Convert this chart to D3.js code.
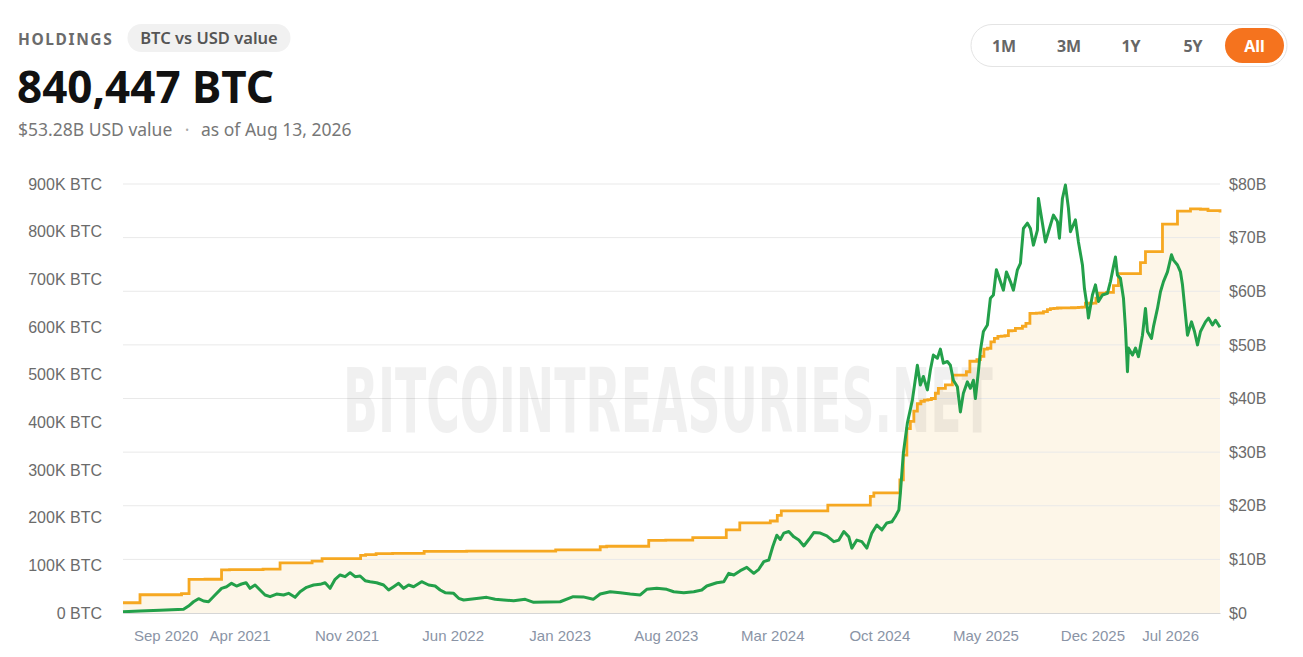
<!DOCTYPE html>
<html>
<head>
    <meta charset="utf-8" />
    <title>Holdings</title>
    <style>
        body {
            margin: 0;
            background: #fff;
            font-family: "Noto Sans", sans-serif;
        }

        svg {
            display: block;
        }

        .axis-side text {
            font-family: "Liberation Sans", Arial, sans-serif;
            font-size: 16px;
            fill: #6b6b6b;
        }

        .axis-bottom text {
            font-family: "Liberation Sans", Arial, sans-serif;
            font-size: 15px;
            fill: #8a94a6;
        }

        .axis-bottom path {
            stroke: #d6d6d6;
        }

        .grid line {
            stroke: #e9e9e9;
            stroke-width: 1;
        }

        .btn-label {
            font-size: 16px;
            font-weight: 700;
            text-anchor: middle;
        }
    </style>
</head>
<body>
    <script src="https://cdn.jsdelivr.net/npm/d3@7"></script>

    <script>
        // BTC held (step series)
        let btcDates = [
            '2020-08-11', '2020-09-14', '2020-12-06', '2020-12-21', '2021-01-22', '2021-02-24',
            '2021-03-12', '2021-05-18', '2021-06-21', '2021-08-24', '2021-09-13', '2021-11-29',
            '2021-12-09', '2021-12-30', '2022-02-01', '2022-04-05', '2022-06-29', '2022-09-20',
            '2022-12-24', '2023-03-23', '2023-04-05', '2023-06-28', '2023-08-01', '2023-09-24',
            '2023-11-30', '2023-12-27', '2024-02-26', '2024-03-11', '2024-03-19', '2024-04-29',
            '2024-06-20', '2024-08-01', '2024-09-13', '2024-09-20', '2024-11-11', '2024-11-18',
            '2024-11-25', '2024-12-02', '2024-12-09', '2024-12-16', '2024-12-23', '2024-12-30',
            '2025-01-06', '2025-01-13', '2025-01-21', '2025-01-27', '2025-02-10', '2025-02-24',
            '2025-03-17', '2025-03-24', '2025-03-31', '2025-04-14', '2025-04-21', '2025-04-28',
            '2025-05-05', '2025-05-12', '2025-05-19', '2025-05-26', '2025-06-02', '2025-06-09',
            '2025-06-16', '2025-06-23', '2025-06-30', '2025-07-14', '2025-07-21', '2025-07-29',
            '2025-08-11', '2025-08-18', '2025-08-25', '2025-09-02', '2025-09-08', '2025-09-15',
            '2025-09-22', '2025-09-29', '2025-10-13', '2025-10-20', '2025-10-27', '2025-11-03',
            '2025-11-10', '2025-11-17', '2025-12-01', '2025-12-08', '2025-12-15', '2025-12-29',
            '2026-01-12', '2026-01-22', '2026-03-07', '2026-03-17', '2026-04-20', '2026-05-20',
            '2026-06-15', '2026-07-05', '2026-07-20', '2026-08-13'
        ]
        let btcHeld = [
            21454, 38250, 40824, 70470, 70784, 90531,
            91064, 92079, 105085, 108992, 114042, 121044,
            122478, 124391, 125051, 129218, 129699, 130000,
            132500, 138955, 140000, 152333, 152800, 158245,
            174530, 189150, 193000, 205000, 214246, 214400,
            226331, 226500, 244800, 252220, 279420, 331200,
            386700, 402100, 423650, 439000, 444262, 446400,
            447470, 450000, 461000, 471107, 478740, 499096,
            499226, 506137, 528185, 531644, 538200, 553555,
            555450, 568840, 576230, 580250, 580955, 582000,
            592100, 592345, 597325, 601550, 607770, 628791,
            628946, 629376, 632457, 636505, 638460, 638985,
            639835, 640031, 640250, 640418, 640808, 641205,
            641692, 649870, 650000, 660624, 671268, 672497,
            687000, 712000, 735000, 758000, 816000, 843000,
            848000, 847000, 844000, 840447
        ]

        // USD value of holdings, billions
        let usdDates = [
            '2020-08-11', '2020-09-14', '2020-10-24', '2020-12-10', '2020-12-20', '2020-12-30',
            '2021-01-09', '2021-01-19', '2021-01-29', '2021-02-11', '2021-02-24', '2021-03-06',
            '2021-03-16', '2021-03-26', '2021-04-05', '2021-04-14', '2021-04-22', '2021-05-02',
            '2021-05-12', '2021-05-22', '2021-06-01', '2021-06-14', '2021-06-28', '2021-07-08',
            '2021-07-21', '2021-07-31', '2021-08-13', '2021-08-27', '2021-09-09', '2021-09-19',
            '2021-09-29', '2021-10-09', '2021-10-19', '2021-10-29', '2021-11-08', '2021-11-18',
            '2021-11-28', '2021-12-08', '2021-12-18', '2021-12-31', '2022-01-14', '2022-01-24',
            '2022-02-03', '2022-02-13', '2022-02-23', '2022-03-05', '2022-03-15', '2022-03-31',
            '2022-04-14', '2022-04-27', '2022-05-07', '2022-05-17', '2022-06-03', '2022-06-13',
            '2022-06-23', '2022-07-06', '2022-07-23', '2022-08-08', '2022-08-25', '2022-09-11',
            '2022-10-01', '2022-10-24', '2022-11-10', '2022-12-06', '2023-01-02', '2023-01-28',
            '2023-02-17', '2023-03-09', '2023-03-23', '2023-04-12', '2023-05-02', '2023-05-22',
            '2023-06-11', '2023-06-24', '2023-07-14', '2023-08-03', '2023-08-17', '2023-09-06',
            '2023-09-26', '2023-10-12', '2023-10-22', '2023-11-11', '2023-11-25', '2023-12-05',
            '2023-12-15', '2023-12-28', '2024-01-10', '2024-01-24', '2024-02-03', '2024-02-13',
            '2024-02-23', '2024-03-02', '2024-03-10', '2024-03-17', '2024-03-24', '2024-04-03',
            '2024-04-13', '2024-04-23', '2024-05-03', '2024-05-13', '2024-05-23', '2024-06-05',
            '2024-06-18', '2024-07-02', '2024-07-12', '2024-07-22', '2024-08-01', '2024-08-07',
            '2024-08-17', '2024-08-27', '2024-09-06', '2024-09-16', '2024-09-26', '2024-10-06',
            '2024-10-16', '2024-10-26', '2024-11-02', '2024-11-09', '2024-11-12', '2024-11-18',
            '2024-11-26', '2024-12-06', '2024-12-16', '2024-12-22', '2024-12-28', '2025-01-05',
            '2025-01-11', '2025-01-17', '2025-01-25', '2025-01-31', '2025-02-06', '2025-02-14',
            '2025-02-20', '2025-02-26', '2025-03-06', '2025-03-12', '2025-03-18', '2025-03-26',
            '2025-04-01', '2025-04-07', '2025-04-11', '2025-04-17', '2025-04-21', '2025-04-27',
            '2025-05-05', '2025-05-11', '2025-05-17', '2025-05-23', '2025-05-31', '2025-06-06',
            '2025-06-12', '2025-06-20', '2025-06-26', '2025-07-04', '2025-07-10', '2025-07-16',
            '2025-07-24', '2025-07-30', '2025-08-05', '2025-08-13', '2025-08-15', '2025-08-23',
            '2025-08-29', '2025-09-04', '2025-09-14', '2025-09-22', '2025-09-26', '2025-10-02',
            '2025-10-08', '2025-10-14', '2025-10-18', '2025-10-28', '2025-11-03', '2025-11-11',
            '2025-11-15', '2025-11-21', '2025-11-23', '2025-12-01', '2025-12-07', '2025-12-13',
            '2025-12-21', '2025-12-31', '2026-01-06', '2026-01-12', '2026-01-16', '2026-01-20',
            '2026-01-26', '2026-02-01', '2026-02-05', '2026-02-09', '2026-02-11', '2026-02-19',
            '2026-02-25', '2026-03-03', '2026-03-11', '2026-03-17', '2026-03-21', '2026-03-29',
            '2026-04-02', '2026-04-10', '2026-04-16', '2026-04-22', '2026-04-30', '2026-05-08',
            '2026-05-12', '2026-05-20', '2026-05-26', '2026-05-30', '2026-06-05', '2026-06-09',
            '2026-06-17', '2026-06-23', '2026-06-29', '2026-07-05', '2026-07-15', '2026-07-21',
            '2026-07-29', '2026-08-04', '2026-08-13'
        ]
        let usdValue = [
            0.25, 0.38, 0.5, 0.68, 1.3, 2.1,
            2.67, 2.24, 2.1, 3.36, 4.6, 4.9,
            5.53, 5.03, 5.41, 5.65, 4.6, 5.22,
            4.29, 3.36, 3.04, 3.54, 3.36, 3.67,
            2.92, 3.97, 4.79, 5.22, 5.35, 5.65,
            4.6, 6.28, 7.09, 6.77, 7.52, 6.77,
            6.9, 6.03, 5.84, 5.65, 5.22, 4.29,
            4.9, 5.53, 4.6, 5.22, 4.9, 5.84,
            5.22, 5.03, 4.29, 3.79, 3.67, 2.74,
            2.42, 2.55, 2.74, 2.92, 2.55, 2.42,
            2.3, 2.55, 1.99, 2.05, 2.1, 3.04,
            3.0, 2.55, 3.54, 3.97, 3.79, 3.54,
            3.36, 4.42, 4.6, 4.42, 3.97, 3.79,
            3.97, 4.29, 5.03, 5.65, 5.84, 7.4,
            7.09, 7.9, 8.52, 7.4, 8.15, 9.57,
            9.88, 12.4, 14.5, 13.7, 14.9, 15.2,
            14.2, 13.6, 12.5, 13.7, 15.0, 14.9,
            14.4, 13.3, 13.6, 15.2, 14.2, 12.1,
            13.6, 13.3, 12.1, 14.9, 16.4, 15.5,
            16.8, 17.0, 18.0, 19.2, 22.3, 29.8,
            35.4, 39.7, 46.2, 42.5, 44.1, 41.6,
            45.3, 48.1, 47.5, 49.2, 46.6, 46.9,
            46.2, 43.4, 42.2, 37.5, 41.0, 43.1,
            41.9, 43.4, 40.0, 45.0, 48.9, 52.5,
            53.7, 58.7, 59.3, 64.0, 61.8, 60.2,
            63.6, 61.8, 60.2, 64.0, 65.2, 71.7,
            72.7, 71.7, 68.6, 71.4, 77.3, 72.7,
            69.2, 71.1, 74.2, 73.0, 69.9, 77.3,
            79.8, 75.5, 71.1, 73.3, 69.2, 64.9,
            60.5, 56.8, 55.0, 59.3, 61.2, 58.1,
            59.3, 59.6, 61.8, 64.6, 66.4, 63.0,
            62.4, 58.7, 53.1, 45.0, 49.4, 48.1,
            49.4, 47.8, 51.8, 56.8, 52.5, 51.2,
            53.4, 56.8, 59.9, 61.8, 63.6, 66.8,
            65.8, 64.9, 63.6, 61.2, 55.6, 51.8,
            54.3, 52.5, 50.0, 52.5, 54.3, 55.0,
            53.7, 54.6, 53.28
        ]

        let xTickLabels = ['Sep 2020', 'Apr 2021', 'Nov 2021', 'Jun 2022', 'Jan 2023', 'Aug 2023',
                           'Mar 2024', 'Oct 2024', 'May 2025', 'Dec 2025', 'Jul 2026']
        let btcTicks = [0, 100000, 200000, 300000, 400000, 500000, 600000, 700000, 800000, 900000]
        let usdTicks = [0, 10, 20, 30, 40, 50, 60, 70, 80]
        let rangeButtons = ['1M', '3M', '1Y', '5Y', 'All']

        let W = 1303,
            H = 657,
            margin = { top: 184, right: 83, bottom: 44, left: 123 }

        let parseDay = d3.timeParse('%Y-%m-%d'),
            parseMonth = d3.timeParse('%b %Y')

        let btcData = btcDates.map((d, i) => ({ date: parseDay(d), value: btcHeld[i] }))
        let usdData = usdDates.map((d, i) => ({ date: parseDay(d), value: usdValue[i] }))

        let x = d3.scaleTime()
            .domain(d3.extent(btcData, d => d.date))
            .range([margin.left, W - margin.right])

        let yBtc = d3.scaleLinear()
            .domain([0, 900000])
            .range([H - margin.bottom, margin.top])

        let yUsd = d3.scaleLinear()
            .domain([0, 80])
            .range([H - margin.bottom, margin.top])

        let svg = d3.select('body')
            .append('svg')
            .attr('width', W)
            .attr('height', H)

        // ---- header ----
        svg.append('text')
            .attr('x', 18).attr('y', 44.5)
            .attr('font-size', 15.5).attr('font-weight', 700)
            .attr('letter-spacing', 1.6)
            .attr('fill', '#6b6b6b')
            .text('HOLDINGS')

        svg.append('rect')
            .attr('x', 127.5).attr('y', 24).attr('width', 163).attr('height', 28).attr('rx', 14)
            .attr('fill', '#f1f1f1')
        svg.append('text')
            .attr('x', 209).attr('y', 44)
            .attr('text-anchor', 'middle')
            .attr('font-size', 16.5).attr('font-weight', 600)
            .attr('fill', '#555')
            .text('BTC vs USD value')

        svg.append('text')
            .attr('x', 17).attr('y', 103)
            .attr('font-size', 44).attr('font-weight', 700)
            .attr('fill', '#111')
            .text('840,447 BTC')

        let sub = svg.append('g')
            .attr('font-size', 17.5)
            .attr('fill', '#777')
        sub.append('text').attr('x', 18).attr('y', 136).text('$53.28B USD value')
        sub.append('text').attr('x', 187).attr('y', 136).attr('text-anchor', 'middle').attr('fill', '#aaa').text('·')
        sub.append('text').attr('x', 201).attr('y', 136).text('as of Aug 13, 2026')

        // range selector
        let btnCenters = [1004, 1069, 1131, 1193, 1254.5]
        svg.append('rect')
            .attr('x', 971).attr('y', 24.5).attr('width', 316).attr('height', 42).attr('rx', 21)
            .attr('fill', '#fff').attr('stroke', '#e4e4e4')
        svg.append('rect')
            .attr('x', 1225).attr('y', 28).attr('width', 59).attr('height', 35).attr('rx', 17.5)
            .attr('fill', '#f5731e')
        svg.append('g')
            .selectAll('text')
            .data(rangeButtons)
            .enter()
                .append('text')
                .classed('btn-label', true)
                .attr('x', (d, i) => btnCenters[i])
                .attr('y', 51.5)
                .style('fill', d => d === 'All' ? '#fff' : '#666')
                .text(d => d)

        // ---- chart ----
        let area = d3.area()
            .curve(d3.curveStepAfter)
            .x(d => x(d.date))
            .y0(yBtc(0))
            .y1(d => yBtc(d.value))

        svg.append('path')
            .datum(btcData)
            .attr('d', area)
            .attr('fill', '#fdf6e8')

        svg.append('g')
            .classed('grid', true)
            .selectAll('line')
            .data(usdTicks.filter(d => d > 0))
            .enter()
                .append('line')
                .attr('x1', margin.left)
                .attr('x2', W - margin.right)
                .attr('y1', d => yUsd(d))
                .attr('y2', d => yUsd(d))

        // watermark, squeezed horizontally to its width in the original
        let mark = svg.append('text')
            .attr('font-family', '"DejaVu Sans Condensed", "Liberation Sans Narrow", sans-serif')
            .attr('font-size', 89).attr('font-weight', 700)
            .attr('fill', '#000').attr('opacity', 0.055)
            .text('BITCOINTREASURIES.NET')
        let markScale = 650 / mark.node().getComputedTextLength()
        mark.attr('transform', `translate(343, 431.5) scale(${markScale}, 1)`)

        svg.append('path')
            .datum(btcData)
            .attr('d', d3.line().curve(d3.curveStepAfter).x(d => x(d.date)).y(d => yBtc(d.value)))
            .attr('fill', 'none')
            .attr('stroke', '#f6a821')
            .attr('stroke-width', 2.8)

        svg.append('path')
            .datum(usdData)
            .attr('d', d3.line().x(d => x(d.date)).y(d => yUsd(d.value)))
            .attr('fill', 'none')
            .attr('stroke', '#23a04a')
            .attr('stroke-width', 3)
            .attr('stroke-linejoin', 'round')

        // ---- axes ----
        let leftAxis = svg.append('g')
            .classed('axis-side', true)
            .attr('transform', 'translate(102, 0)')
            .call(d3.axisLeft(yBtc)
                .tickValues(btcTicks)
                .tickSize(0).tickPadding(0)
                .tickFormat(d => d === 0 ? '0 BTC' : (d / 1000) + 'K BTC'))
        leftAxis.select('.domain').remove()

        let rightAxis = svg.append('g')
            .classed('axis-side', true)
            .attr('transform', 'translate(1229, 0)')
            .call(d3.axisRight(yUsd)
                .tickValues(usdTicks)
                .tickSize(0).tickPadding(0)
                .tickFormat(d => d === 0 ? '$0' : '$' + d + 'B'))
        rightAxis.select('.domain').remove()

        let bottomAxis = svg.append('g')
            .classed('axis-bottom', true)
            .attr('transform', `translate(0, ${H - margin.bottom})`)
            .call(d3.axisBottom(x)
                .tickValues(xTickLabels.map(parseMonth))
                .tickSizeInner(0).tickSizeOuter(0).tickPadding(17)
                .tickFormat(d3.timeFormat('%b %Y')))

        // keep the edge labels inside the plot, like the original
        let n = xTickLabels.length
        bottomAxis.selectAll('.tick text')
            .attr('text-anchor', (d, i) => i === 0 ? 'start' : (i === n - 1 ? 'end' : 'middle'))
    </script>
</body>
</html>
